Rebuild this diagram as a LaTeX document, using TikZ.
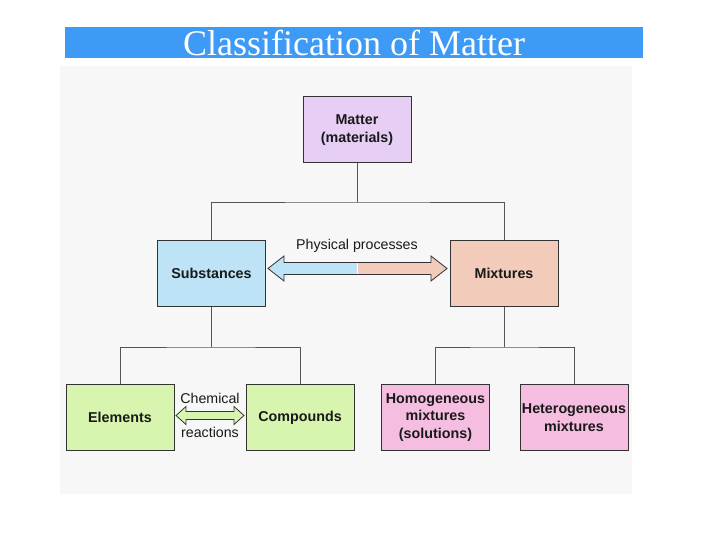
\documentclass[tikz,border=0pt]{standalone}
\usepackage{fontspec}
\setmainfont{Liberation Sans}
\newfontfamily\titlefont{Liberation Serif}
\definecolor{titleblue}{HTML}{3D9AF5}
\definecolor{panel}{HTML}{F7F7F7}
\definecolor{lavender}{HTML}{E6CEF5}
\definecolor{skyfill}{HTML}{BEE2F6}
\definecolor{salmon}{HTML}{F2CBBB}
\definecolor{lightgreen}{HTML}{D8F5B0}
\definecolor{pinkfill}{HTML}{F5BEE0}
\definecolor{linegray}{HTML}{555555}
\definecolor{edge}{HTML}{333333}
\begin{document}
\begin{tikzpicture}[x=1pt,y=-1pt,
  box/.style={draw=edge,line width=1pt,rectangle,minimum width=108pt,minimum height=66pt,inner sep=0pt,align=center,font=\bfseries\fontsize{14.3}{17.5}\selectfont,text=black!90},
  conn/.style={draw=linegray,line width=0.8pt},
  arrowline/.style={draw=edge,line width=0.8pt,line join=miter},
  lbl/.style={font=\fontsize{14.2}{16}\selectfont,text=black!90,inner sep=0pt}]
\useasboundingbox (0,0) rectangle (720,540);
\fill[white] (0,0) rectangle (720,540);
% title bar
\fill[titleblue] (65,27) rectangle (643,58);
\node[font=\titlefont\fontsize{36}{41}\selectfont,text=white,inner sep=0pt] (title) at (354,43.5) {Classification of Matter};
% panel
\fill[panel] (60,66) rectangle (632,494);
% boxes
\node[box,fill=lavender] (matter) at (357,130) {Matter\\(materials)};
\node[box,fill=skyfill] (subst) at (211.5,273) {Substances};
\node[box,fill=salmon] (mix) at (504,273) {Mixtures};
\node[box,fill=lightgreen] (elem) at (120,417.5) {Elements};
\node[box,fill=lightgreen] (comp) at (300,417.5) {Compounds};
\node[box,fill=pinkfill] (homo) at (435.5,417.5) {Homogeneous\\mixtures\\(solutions)};
\node[box,fill=pinkfill] (hetero) at (574,417.5) {Heterogeneous\\mixtures};
% tree connectors
\coordinate (j1) at (357,202);
\coordinate (j2) at (211.5,347);
\coordinate (j3) at (504,347);
\draw[conn] (matter.south) -- (j1);
\draw[conn] (subst.north) |- (j1) -| (mix.north);
\draw[conn] (subst.south) -- (j2);
\draw[conn] (elem.north) |- (j2) -| (comp.north);
\draw[conn] (mix.south) -- (j3);
\draw[conn] (homo.north) |- (j3) -| (hetero.north);
% physical processes arrow
\fill[skyfill] (268,268.5) -- (284,256) -- (284,262.5) -- (357.5,262.5) -- (357.5,274.5) -- (284,274.5) -- (284,281) -- cycle;
\fill[salmon] (447,268.5) -- (431,256) -- (431,262.5) -- (357.5,262.5) -- (357.5,274.5) -- (431,274.5) -- (431,281) -- cycle;
\draw[arrowline] (268,268.5) -- (284,256) -- (284,262.5) -- (431,262.5) -- (431,256) -- (447,268.5) -- (431,281) -- (431,274.5) -- (284,274.5) -- (284,281) -- cycle;
\draw[white,line width=0.8pt] (357.5,263.2) -- (357.5,273.8);
\node[lbl] (phys) at (357,246) {Physical processes};
% chemical reactions arrow
\filldraw[fill=lightgreen,arrowline] (176,415.5) -- (186,406.5) -- (186,411.5) -- (234,411.5) -- (234,406.5) -- (244,415.5) -- (234,424.5) -- (234,419.5) -- (186,419.5) -- (186,424.5) -- cycle;
\node[lbl] (chem) at (210,398) {Chemical};
\node[lbl] (react) at (210,432) {reactions};
\end{tikzpicture}
\end{document}
